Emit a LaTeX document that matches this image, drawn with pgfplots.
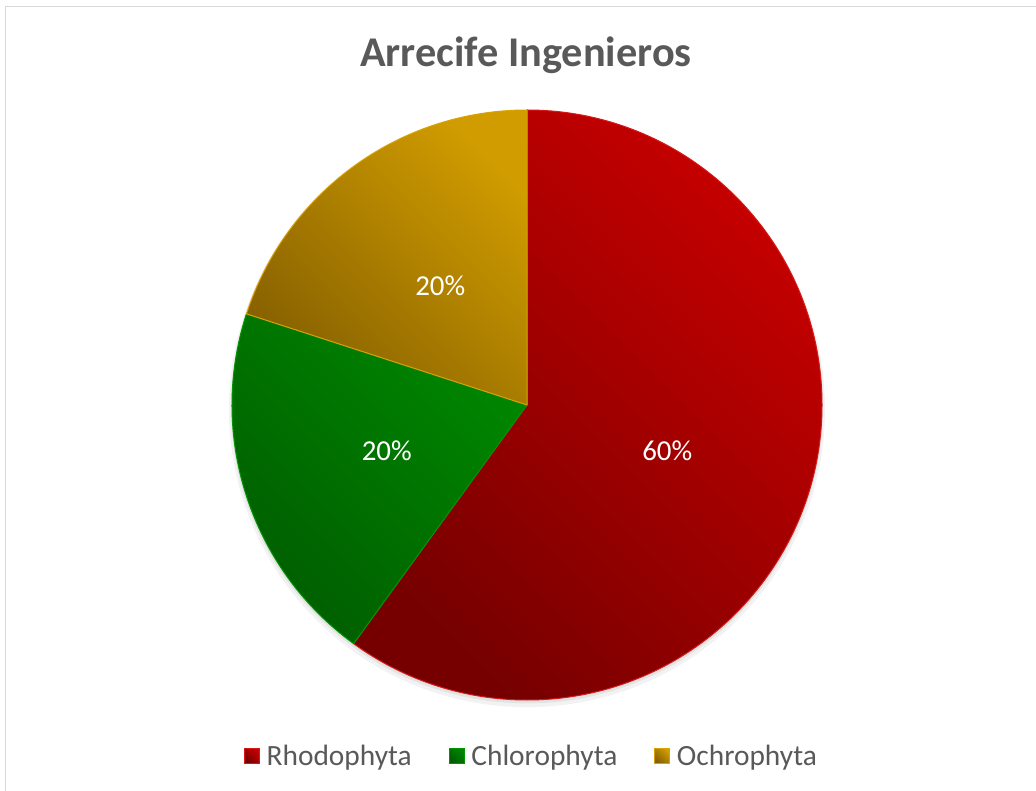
\documentclass[border=0pt]{standalone}
\usepackage{pgfplots}
\pgfplotsset{compat=1.18}
\usepackage{pgfplotstable}
\usepackage{fontspec}
\setmainfont{Carlito}
\definecolor{txt}{RGB}{89,89,89}
\definecolor{bord}{RGB}{217,217,217}
\definecolor{redL}{RGB}{198,0,0}
\definecolor{redD}{RGB}{118,0,0}
\definecolor{redE}{RGB}{214,24,24}
\definecolor{grnL}{RGB}{0,134,0}
\definecolor{grnD}{RGB}{0,92,0}
\definecolor{grnE}{RGB}{0,150,0}
\definecolor{golL}{RGB}{208,156,0}
\definecolor{golD}{RGB}{134,96,0}
\definecolor{golE}{RGB}{216,162,0}

\pgfplotstableread{
name value
Rhodophyta 60
Chlorophyta 20
Ochrophyta 20
}\piedata

\newcommand\pieslice[6]{% start end light dark edge label
  \path[draw=#5, line width=1bp, line join=round,
    path picture={\shade[left color=#4,right color=#3,shading angle=135]
      (path picture bounding box.south west) rectangle (path picture bounding box.north east);}]
   (axis cs:0,0) -- (axis cs:{cos(#1)},{sin(#1)})
   arc[start angle=#1, end angle=#2, radius=295bp] -- cycle;
  \node[text=white, font=\fontsize{29}{29}\selectfont]
   at (axis cs:{0.5*cos((#1+#2)/2)},{0.5*sin((#1+#2)/2)}) {#6};
}

\begin{document}
\begin{tikzpicture}
\pgfplotstablegetelem{0}{value}\of\piedata \let\va\pgfplotsretval
\pgfplotstablegetelem{1}{value}\of\piedata \let\vb\pgfplotsretval
\pgfplotstablegetelem{2}{value}\of\piedata \let\vc\pgfplotsretval
\pgfmathsetmacro{\tot}{\va+\vb+\vc}
\pgfmathsetmacro{\aA}{90}
\pgfmathsetmacro{\aB}{\aA-360/\tot*\va}
\pgfmathsetmacro{\aC}{\aB-360/\tot*\vb}
\pgfmathsetmacro{\aD}{\aC-360/\tot*\vc}
\pgfmathtruncatemacro{\pA}{round(100/\tot*\va)}
\pgfmathtruncatemacro{\pB}{round(100/\tot*\vb)}
\pgfmathtruncatemacro{\pC}{round(100/\tot*\vc)}
\useasboundingbox (0,0) rectangle (1036bp,791bp);
\fill[white] (0,0) rectangle (1036bp,791bp);
\draw[bord, line width=1.6bp] (5.5bp,-20bp) -- (5.5bp,784.5bp) -- (1060bp,784.5bp);
\node[anchor=base, text=txt, font=\bfseries\fontsize{42.5}{42.5}\selectfont] at (526bp,724.5bp) {Arrecife Ingenieros};
\begin{axis}[
  at={(527bp,386bp)}, anchor=center,
  scale only axis, width=590bp, height=590bp,
  xmin=-1, xmax=1, ymin=-1, ymax=1,
  hide axis, clip=false,
  legend columns=3,
  legend style={at={(0.5076,-0.0949)}, anchor=center, draw=none, fill=none,
    font=\fontsize{29.5}{29.5}\selectfont, text=txt,
    /tikz/every odd column/.append style={column sep=5bp},
    /tikz/every even column/.append style={column sep=35bp}},
]
\addlegendimage{legend image code/.code={\shadedraw[left color=redD,right color=redL,shading angle=135,draw=redE,line width=0.6bp] (0bp,-7.5bp) rectangle (15bp,7.5bp);}}
\addlegendentry{Rhodophyta}
\addlegendimage{legend image code/.code={\shadedraw[left color=grnD,right color=grnL,shading angle=135,draw=grnE,line width=0.6bp] (0bp,-7.5bp) rectangle (15bp,7.5bp);}}
\addlegendentry{Chlorophyta}
\addlegendimage{legend image code/.code={\shadedraw[left color=golD,right color=golL,shading angle=135,draw=golE,line width=0.6bp] (0bp,-7.5bp) rectangle (15bp,7.5bp);}}
\addlegendentry{Ochrophyta}
% soft shadow
\fill[black, opacity=0.05] (axis cs:0,-0.014) circle[radius=298bp];
\fill[black, opacity=0.06] (axis cs:0,-0.008) circle[radius=296bp];
\pieslice{\aA}{\aB}{redL}{redD}{redE}{\pA\%}
\pieslice{\aB}{\aC}{grnL}{grnD}{grnE}{\pB\%}
\pieslice{\aC}{\aD}{golL}{golD}{golE}{\pC\%}
\end{axis}
\end{tikzpicture}
\end{document}
